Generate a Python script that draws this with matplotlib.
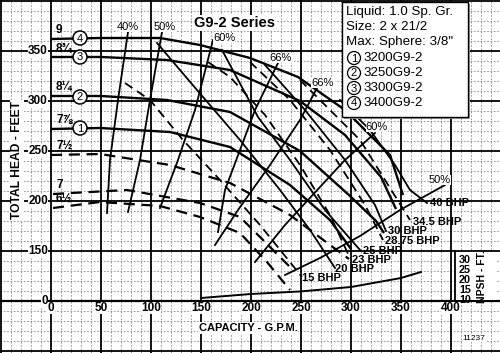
import matplotlib
matplotlib.use("Agg")
import matplotlib.pyplot as plt
from matplotlib.patches import Circle, Rectangle

# capacity in GPM, head in ft. Below the 150 ft line the chart is squeezed
# (the "0" line sits where 100 would be), values there are in chart units.
q_9 = [0, 49, 109, 149, 199, 247, 294, 339, 352]
h_9 = [362, 363, 363, 356, 343, 324, 291, 246, 206]
q_8_75 = [0, 50, 116, 179, 249, 294, 330, 345]
h_8_75 = [344, 344, 341, 331, 300, 266, 224, 192]
q_8_25 = [0, 50, 116, 179, 249, 299, 325, 333]
h_8_25 = [305, 305, 301, 289, 250, 205, 180, 168]
q_7_875 = [0, 49, 119, 179, 239, 279, 300]
h_7_875 = [272, 273, 269, 254, 216, 181, 152]
q_7_5 = [0, 49, 119, 179, 239, 279, 298]
h_7_5 = [246, 247, 236, 218, 186, 156, 142]
q_7 = [2, 76, 149, 189, 222, 240]
h_7 = [207, 211, 198, 184, 151, 133]
q_6_5 = [2, 49, 109, 149, 189, 216, 239]
h_6_5 = [193, 199, 195, 184, 168, 139, 111]

solid_curves = [(q_9, h_9), (q_8_75, h_8_75), (q_8_25, h_8_25), (q_7_875, h_7_875)]
dashed_curves = [(q_7_5, h_7_5), (q_7, h_7), (q_6_5, h_6_5)]
dia_labels = ["9", "8\u00be", "8\u00bc", "7\u215e", "7\u00bd", "7", "6\u00bd"]
dia_heads = [362, 344, 305, 272, 246, 207, 193]

# constant power lines, ending at their BHP notes
bhp_labels = ["40 BHP", "34.5 BHP", "30 BHP", "28.75 BHP", "25 BHP", "23 BHP", "20 BHP", "15 BHP"]
bhp_q = [
    [289, 319, 344, 359, 376],
    [249, 279, 309, 334, 359],
    [214, 254, 294, 324, 335],
    [199, 239, 279, 314, 332],
    [171, 207, 239, 274, 309],
    [157, 179, 214, 249, 279, 299],
    [106, 146, 189, 229, 259, 284],
    [74, 99, 132, 169, 209, 251],
]
bhp_h = [
    [301, 271, 236, 211, 198],
    [321, 291, 261, 221, 181],
    [336, 291, 241, 196, 170],
    [339, 301, 251, 196, 161],
    [351, 284, 241, 191, 151],
    [339, 324, 286, 236, 186, 143],
    [358, 311, 261, 211, 171, 133],
    [318, 301, 261, 221, 176, 124],
]

# efficiency lines
eff_lines = {
    "40%": ([77, 67, 59, 56], [369, 301, 241, 188]),
    "50%": ([111, 99, 89, 77], [369, 301, 241, 189]),
    "60%": ([162, 144, 127, 109], [361, 291, 241, 193]),
    "66%": ([227, 204, 174, 167], [338, 291, 211, 169]),
    "66%r": ([266, 249, 219, 187, 164], [313, 281, 236, 191, 156]),
    "60%r": ([324, 294, 269, 234, 204], [268, 241, 214, 176, 139]),
    "50%r": ([394, 349, 309, 269, 234], [216, 191, 165, 143, 126]),
}

# NPSH required, ft
q_npsh = [150, 200, 250, 300, 350, 370]
npsh = [11, 13, 14.3, 16.5, 21, 24]

x_ticks = [0, 50, 100, 150, 200, 250, 300, 350, 400]
y_ticks = [350, 300, 250, 200, 150]
npsh_ticks = [30, 25, 20, 15, 10]
models = ["3200G9-2", "3250G9-2", "3300G9-2", "3400G9-2"]

cond = ["Liberation Sans Narrow", "Liberation Sans", "DejaVu Sans"]
sans = ["Liberation Sans", "DejaVu Sans"]


def P(x, y):
    # picture pixel -> chart units
    return x - 51, 401 - y


fig = plt.figure(figsize=(5.0, 3.53), dpi=100)
ax = fig.add_axes([0, 0, 1, 1])
ax.set_xlim(-51, 449)
ax.set_ylim(48, 401)
ax.axis("off")

# graph paper
for v in range(-50, 450, 10):
    if v % 50:
        ax.axvline(v, color="#888888", lw=0.6, ls=(0, (2, 2)), zorder=0)
for v in range(50, 401, 10):
    if v % 50:
        ax.axhline(v, color="#888888", lw=0.6, ls=(0, (2, 2)), zorder=0)
for v in range(-50, 450, 50):
    ax.axvline(v, color="black", lw=1.3, zorder=1)
for v in range(50, 401, 50):
    ax.axhline(v, color="black", lw=1.6 if v == 100 else 1.3, zorder=1)

for q, h in solid_curves:
    ax.plot(q, h, color="black", lw=1.7, zorder=3, solid_capstyle="butt")
for q, h in dashed_curves:
    ax.plot(q, h, color="black", lw=1.6, dashes=(5, 3), zorder=3)
for i, (q, h) in enumerate(zip(bhp_q, bhp_h)):
    if i % 2:
        ax.plot(q, h, color="black", lw=1.3, dashes=(5, 3), zorder=3)
    else:
        ax.plot(q, h, color="black", lw=1.3, zorder=3)
for q, h in eff_lines.values():
    ax.plot(q, h, color="black", lw=1.3, zorder=3)

ax.plot(q_npsh, [81 + 2 * n for n in npsh], color="black", lw=1.4, zorder=3)

# impeller marks
for lab, h in zip(dia_labels, dia_heads):
    ax.text(5, h + 3, lab, fontsize=8.5, fontweight="bold", family=cond,
            ha="left", va="bottom", zorder=5)
for i, y in enumerate([128, 97, 57, 38]):
    cx, cy = P(80, y)
    ax.add_patch(Circle((cx, cy), 7, facecolor="white", edgecolor="black", lw=1.1, zorder=6))
    ax.text(cx, cy - 0.5, str(i + 1), fontsize=8, ha="center", va="center",
            family=sans, zorder=7)

# axis numbers
for v in x_ticks:
    ax.text(v, 93, str(v), fontsize=8.5, fontweight="bold", family=cond,
            ha="center", va="center", zorder=5,
            bbox=dict(facecolor="white", edgecolor="none", pad=0.3))
for v in y_ticks:
    ax.text(-3, v, str(v), fontsize=8.5, fontweight="bold", family=cond,
            ha="right", va="center", zorder=5,
            bbox=dict(facecolor="white", edgecolor="none", pad=0.3))
ax.text(-3, 100, "0", fontsize=8.5, fontweight="bold", family=cond,
        ha="right", va="center", zorder=5,
        bbox=dict(facecolor="white", edgecolor="none", pad=0.3))

ax.text(*P(17, 160), "TOTAL HEAD - FEET", rotation=90, fontsize=8.7, fontweight="bold",
        family=sans, ha="center", va="center", zorder=5,
        bbox=dict(facecolor="white", edgecolor="none", pad=0.5))
ax.text(*P(248, 328), "CAPACITY - G.P.M.", fontsize=8, fontweight="bold",
        family=sans, ha="center", va="center", zorder=5,
        bbox=dict(facecolor="white", edgecolor="none", pad=0.5))

# NPSH scale
ax.plot([404, 404], [100, 150], color="black", lw=1.3, zorder=4)
ax.add_patch(Rectangle((405, 101), 40, 48, facecolor="white", edgecolor="none", zorder=2))
for n in npsh_ticks:
    ax.text(408, 81 + 2 * n, str(n), fontsize=7.8, fontweight="bold", family=cond,
            ha="left", va="center", zorder=5)
ax.text(*P(482, 277), "NPSH - FT.", rotation=90, fontsize=7.5, fontweight="bold",
        family=sans, ha="center", va="center", zorder=5)
ax.text(*P(474, 338), "11237", fontsize=6, family=sans, ha="center", va="center",
        zorder=5, bbox=dict(facecolor="white", edgecolor="none", pad=0.3))

# efficiency notes
eff_pos = [(128, 27), (165, 27), (224, 38), (281, 58), (323, 83), (377, 127), (440, 180)]
for (x, y), lab in zip(eff_pos, eff_lines.keys()):
    ax.text(*P(x, y), lab.rstrip("r"), fontsize=8, family=sans, ha="center", va="center",
            zorder=5, bbox=dict(facecolor="white", edgecolor="none", pad=0.2))

bhp_pos = [(430, 203), (413, 222), (388, 231), (385, 241), (363, 251), (352, 260),
           (335, 269), (302, 278)]
for (x, y), lab in zip(bhp_pos, bhp_labels):
    ax.text(*P(x, y), lab, fontsize=8, fontweight="bold", family=cond,
            ha="left", va="center", zorder=5)

ax.text(*P(235, 23), "G9-2 Series", fontsize=10.5, fontweight="bold", family=sans,
        ha="center", va="center", zorder=5,
        bbox=dict(facecolor="white", edgecolor="none", pad=0.5))

# info box
bx0, by0 = P(342, 117)
bx1, by1 = P(468, 2)
ax.add_patch(Rectangle((bx0 + 2, by0 - 2), bx1 - bx0, by1 - by0, facecolor="#999999",
                       edgecolor="none", zorder=7))
ax.add_patch(Rectangle((bx0, by0), bx1 - bx0, by1 - by0, facecolor="white",
                       edgecolor="black", lw=1.0, zorder=8))
info = ["Liquid: 1.0 Sp. Gr.", "Size: 2 x 21/2", 'Max: Sphere: 3/8"']
for i, t in enumerate(info):
    ax.text(*P(346, 12 + 15 * i), t, fontsize=9.6, family=sans, ha="left", va="center",
            zorder=9)
for i, m in enumerate(models):
    cx, cy = P(354, 58 + 15 * i)
    ax.add_patch(Circle((cx, cy), 6.5, facecolor="white", edgecolor="black", lw=0.9, zorder=9))
    ax.text(cx, cy - 0.5, str(i + 1), fontsize=8, family=sans, ha="center", va="center",
            zorder=10)
    ax.text(cx + 10, cy, m, fontsize=9.6, family=sans, ha="left", va="center", zorder=10)

fig.savefig("out.png", dpi=100)
